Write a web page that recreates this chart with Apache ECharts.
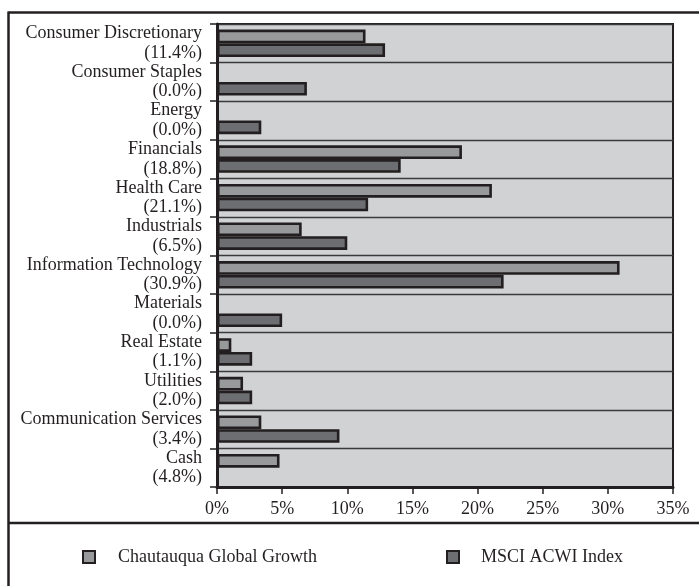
<!DOCTYPE html>
<html>
<head>
<meta charset="utf-8">
<title>Sector Weights</title>
<script src="https://cdn.jsdelivr.net/npm/echarts@6/dist/echarts.min.js"></script>
<style>
  html, body { margin: 0; padding: 0; background: #ffffff; }
  #chart { width: 699px; height: 586px; }
</style>
</head>
<body>
<div id="chart"></div>
<script>
// Sector names, listed top to bottom
const sectors = [
  'Consumer Discretionary', 'Consumer Staples', 'Energy', 'Financials',
  'Health Care', 'Industrials', 'Information Technology', 'Materials',
  'Real Estate', 'Utilities', 'Communication Services', 'Cash'
];
// Portfolio weights (%) — also shown in parentheses under each sector name
const chautauqua = [11.4, 0.0, 0.0, 18.8, 21.1, 6.5, 30.9, 0.0, 1.1, 2.0, 3.4, 4.8];
// Benchmark weights (%)
const msciAcwi = [12.9, 6.9, 3.4, 14.1, 11.6, 10.0, 22.0, 5.0, 2.7, 2.7, 9.4, 0.0];
// X axis tick values
const xTicks = [0, 5, 10, 15, 20, 25, 30, 35];

const seriesNames = ['Chautauqua Global Growth', 'MSCI ACWI Index'];
const INK = '#231f20';
const FONT = 'Liberation Serif';

// Zero weights get no outline so nothing is drawn for them
function barData(values) {
  return values.map(v => v === 0 ? { value: v, itemStyle: { borderWidth: 0 } } : v);
}

const chart = echarts.init(document.getElementById('chart'), null, { renderer: 'canvas' });

chart.setOption({
  backgroundColor: '#ffffff',
  animation: false,
  textStyle: { fontFamily: FONT, color: INK },
  grid: {
    left: 217, right: 26, top: 24, bottom: 99,
    show: true,
    backgroundColor: '#d1d2d4',
    borderColor: INK,
    borderWidth: 2
  },
  legend: [
    {
      data: [seriesNames[0]],
      left: 77, top: 543,
      itemWidth: 12, itemHeight: 12,
      icon: 'rect',
      textStyle: { fontFamily: FONT, fontSize: 18, color: INK, padding: [0, 0, 0, 18] }
    },
    {
      data: [seriesNames[1]],
      left: 441, top: 543,
      itemWidth: 12, itemHeight: 12,
      icon: 'rect',
      textStyle: { fontFamily: FONT, fontSize: 18, color: INK, padding: [0, 0, 0, 17] }
    }
  ],
  xAxis: {
    type: 'value',
    min: xTicks[0],
    max: xTicks[xTicks.length - 1],
    interval: xTicks[1] - xTicks[0],
    axisLine: { show: true, lineStyle: { color: INK, width: 3 } },
    axisTick: { show: true, length: 7, lineStyle: { color: INK, width: 1.5 } },
    splitLine: { show: false },
    axisLabel: {
      margin: 13,
      fontFamily: FONT, fontSize: 18, color: INK,
      formatter: v => v + '%'
    }
  },
  yAxis: {
    type: 'category',
    data: sectors,
    inverse: true,
    axisLine: { show: true, lineStyle: { color: INK, width: 3 } },
    axisTick: { show: true, length: 7, interval: 0, lineStyle: { color: INK, width: 1.5 } },
    splitLine: { show: true, interval: 0, lineStyle: { color: '#3a3a3a', width: 1.3 } },
    axisLabel: {
      margin: 15,
      interval: 0,
      showMinLabel: true,
      showMaxLabel: true,
      hideOverlap: false,
      fontFamily: FONT, fontSize: 18, lineHeight: 19.5, color: INK,
      align: 'right',
      formatter: (name, idx) => name + '\n(' + chautauqua[idx].toFixed(1) + '%)'
    }
  },
  series: [
    {
      name: seriesNames[0],
      type: 'bar',
      data: barData(chautauqua),
      barWidth: 13.7,
      barGap: '0%',
      itemStyle: { color: '#98999b', borderColor: INK, borderWidth: 2.6 }
    },
    {
      name: seriesNames[1],
      type: 'bar',
      data: barData(msciAcwi),
      barWidth: 13.7,
      barGap: '0%',
      itemStyle: { color: '#6d6e71', borderColor: INK, borderWidth: 2.6 }
    }
  ],
  graphic: [
    // outer frame: top rule, left rule and the rule above the legend
    { type: 'line', shape: { x1: 8.5, y1: 12.5, x2: 699, y2: 12.5 }, style: { stroke: INK, lineWidth: 2.5 } },
    { type: 'line', shape: { x1: 8.5, y1: 11.5, x2: 8.5, y2: 586 }, style: { stroke: INK, lineWidth: 2.5 } },
    { type: 'line', shape: { x1: 8.5, y1: 523, x2: 699, y2: 523 }, style: { stroke: INK, lineWidth: 2.5 } }
  ]
});
</script>
</body>
</html>
